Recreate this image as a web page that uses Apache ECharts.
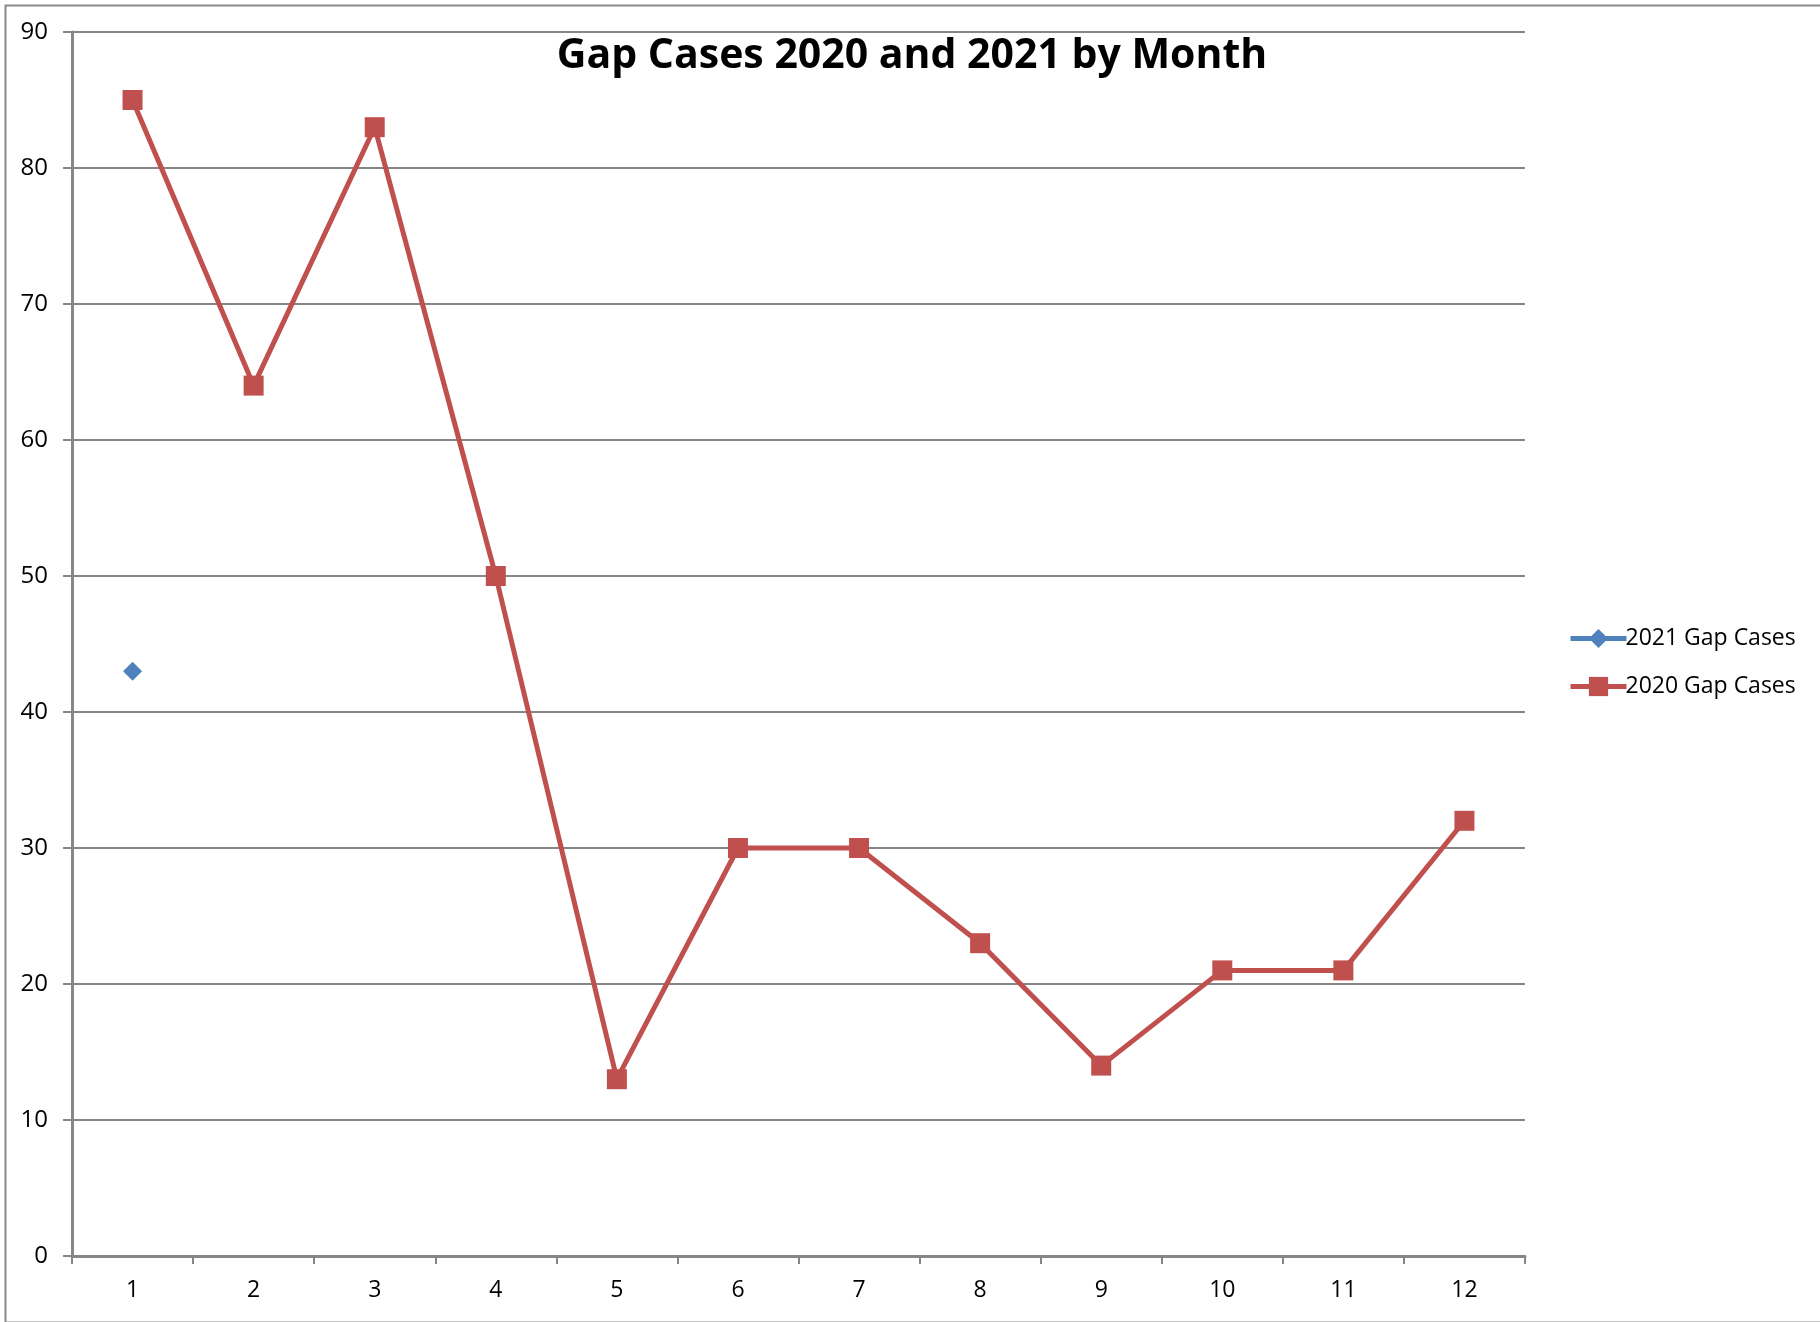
<!DOCTYPE html>
<html><head><meta charset="utf-8">
<script src="https://cdn.jsdelivr.net/npm/echarts@6/dist/echarts.min.js"></script>
<style>html,body{margin:0;padding:0;background:#fff}#c{width:1820px;height:1322px}</style>
</head><body><div id="c"></div>
<script>
const months = ['1','2','3','4','5','6','7','8','9','10','11','12'];
const cases2021 = [43, null, null, null, null, null, null, null, null, null, null, null];
const cases2020 = [85, 64, 83, 50, 13, 30, 30, 23, 14, 21, 21, 32];
const yTicks = {min: 0, max: 90, interval: 10};
const FONT = '"Open Sans", sans-serif';
const chart = echarts.init(document.getElementById('c'));
chart.setOption({
  animation: false,
  backgroundColor: '#fff',
  title: {
    text: 'Gap Cases 2020 and 2021 by Month',
    left: 907, top: 31, textAlign: 'center',
    textStyle: {fontFamily: FONT, fontWeight: 'bold', fontSize: 41, color: '#000'}
  },
  graphic: [{
    type: 'rect', left: 3, top: 3, silent: true,
    shape: {x: 0, y: 0, width: 1840, height: 1317},
    style: {fill: 'none', stroke: '#8a8a8a', lineWidth: 2}
  }],
  legend: {
    orient: 'vertical', left: 1563, top: 622,
    itemWidth: 56, itemHeight: 24, itemGap: 25,
    lineStyle: {width: 5},
    textStyle: {fontFamily: FONT, fontSize: 23, color: '#000', padding: [0,0,0,-6]},
    data: ['2021 Gap Cases', '2020 Gap Cases']
  },
  grid: {left: 72, top: 32, right: 295, bottom: 66, containLabel: false},
  xAxis: {
    type: 'category', data: months, boundaryGap: true,
    axisLine: {lineStyle: {color: '#868686', width: 3}},
    axisTick: {show: true, length: 8, lineStyle: {color: '#868686', width: 2}},
    axisLabel: {fontFamily: FONT, fontSize: 23, color: '#000', margin: 23},
    splitLine: {show: false}
  },
  yAxis: {
    type: 'value', min: yTicks.min, max: yTicks.max, interval: yTicks.interval,
    axisLine: {show: true, lineStyle: {color: '#868686', width: 3}},
    axisTick: {show: true, length: 9, lineStyle: {color: '#868686', width: 2}},
    axisLabel: {fontFamily: FONT, fontSize: 24, color: '#000', margin: 24},
    splitLine: {show: true, lineStyle: {color: '#868686', width: 2}}
  },
  series: [
    {
      name: '2021 Gap Cases', type: 'line', data: cases2021,
      symbol: 'diamond', symbolSize: 19, showAllSymbol: true,
      itemStyle: {color: '#4F81BD'},
      lineStyle: {color: '#4F81BD', width: 5}
    },
    {
      name: '2020 Gap Cases', type: 'line', data: cases2020,
      symbol: 'rect', symbolSize: 20, showAllSymbol: true,
      itemStyle: {color: '#C0504D'},
      lineStyle: {color: '#C0504D', width: 5}
    }
  ]
});
</script></body></html>
